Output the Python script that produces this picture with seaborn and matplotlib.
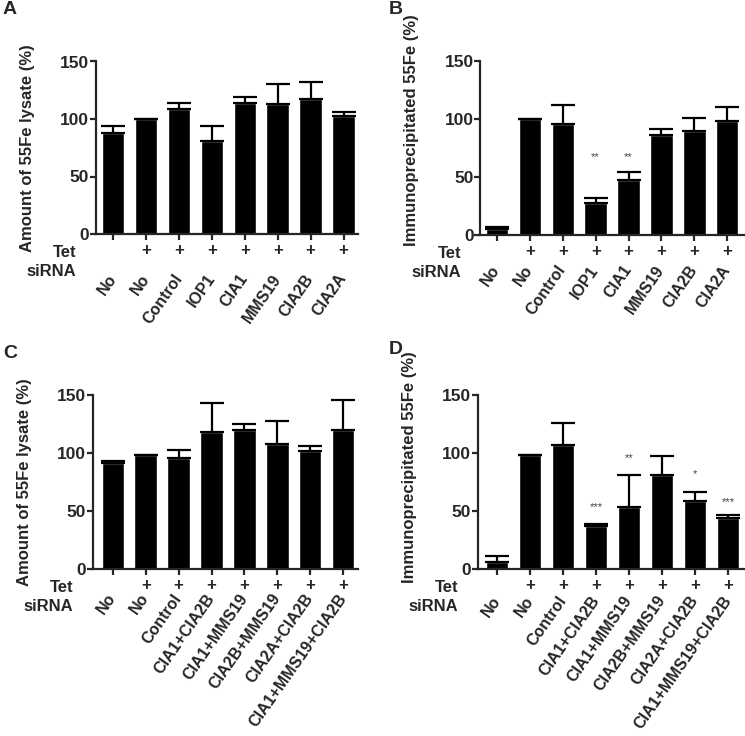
import numpy as np
import pandas as pd
import matplotlib
matplotlib.use("Agg")
import matplotlib.pyplot as plt
import seaborn as sns

# ---- data ----
sirna_ab = ["No", "No", "Control", "IOP1", "CIA1", "MMS19", "CIA2B", "CIA2A"]
sirna_cd = ["No", "No", "Control", "CIA1+CIA2B", "CIA1+MMS19", "CIA2B+MMS19",
            "CIA2A+CIA2B", "CIA1+MMS19+CIA2B"]
tet = ["", "+", "+", "+", "+", "+", "+", "+"]

lysate_a = [87.5, 100, 108.5, 80.5, 114, 113, 117, 103]
lysate_a_err = [6, 0, 5.5, 13.5, 5, 17, 15.5, 3]

ip_b = [5.5, 100, 95.5, 28, 47, 86.5, 90, 98.2]
ip_b_err = [1.3, 0, 16.5, 3.5, 7.5, 4.5, 11, 12.3]
stars_b = ["", "", "", "**", "**", "", "", ""]
stars_b_y = [0, 0, 0, 67, 67, 0, 0, 0]

lysate_c = [91.5, 98, 96, 118.5, 120, 108, 102, 120]
lysate_c_err = [2, 0, 7, 24.5, 5, 20, 4, 26]

ip_d = [6, 98, 107, 37.4, 53.6, 81, 58.5, 43.6]
ip_d_err = [4.8, 0, 19, 1.1, 27.1, 16.8, 7.5, 2.9]
stars_d = ["", "", "", "***", "**", "", "*", "***"]
stars_d_y = [0, 0, 0, 53.6, 96, 0, 82, 57.8]

ylab_lys = "Amount of 55Fe lysate (%)"
ylab_ip = "Immunoprecipitated 55Fe (%)"

sns.set_style("ticks")
plt.rcParams["font.family"] = ["Liberation Sans", "DejaVu Sans"]
plt.rcParams["font.weight"] = "bold"

W, H = 745, 736
fig = plt.figure(figsize=(W / 100, H / 100), dpi=100)


def panel(rect_px, labels, means, errs, ylabel, xlim, ylab_y, lab_pad, letter,
          letter_xy, stars=None, stars_y=None):
    x0, y_top, x1, y_bot = rect_px
    ax = fig.add_axes([x0 / W, 1 - y_bot / H, (x1 - x0) / W, (y_bot - y_top) / H])
    df = pd.DataFrame({"pos": range(len(means)), "val": means})
    sns.barplot(data=df, x="pos", y="val", color="black", saturation=1,
                width=0.68, errorbar=None, ax=ax)
    ax.errorbar(df["pos"], df["val"], yerr=[np.zeros(len(errs)), errs],
                fmt="none", ecolor="black", elinewidth=1.6, capsize=8.5,
                capthick=1.6, zorder=1)
    ax.set_ylim(0, 150)
    ax.set_yticks([0, 50, 100, 150])
    ax.set_xlim(*xlim)
    sns.despine(ax=ax)
    for s in ["left", "bottom"]:
        ax.spines[s].set_linewidth(1.6)
    ax.tick_params(axis="both", width=1.6, length=4)
    ax.tick_params(axis="y", labelsize=12.5, pad=1)
    ax.set_xticks(range(len(labels)))
    ax.set_xticklabels(labels, rotation=55, ha="right", va="center",
                       rotation_mode="anchor", fontsize=11.5, fontweight="bold")
    ax.tick_params(axis="x", pad=lab_pad)
    ax.set_xlabel("")
    ax.set_ylabel(ylabel, fontsize=12, fontweight="bold")
    ax.yaxis.set_label_coords(-61 / (x1 - x0), ylab_y)

    # Tet / siRNA rows
    ax.annotate("Tet", xy=(0, 0), xycoords="axes fraction", xytext=(-14, -13),
                textcoords="offset points", ha="right", va="center",
                fontsize=12, fontweight="bold")
    ax.annotate("siRNA", xy=(0, 0), xycoords="axes fraction", xytext=(-14, -27),
                textcoords="offset points", ha="right", va="center",
                fontsize=12, fontweight="bold")
    for i, t in enumerate(tet):
        ax.annotate(t, xy=(i, 0), xycoords=("data", "axes fraction"),
                    xytext=(0, -12), textcoords="offset points",
                    ha="center", va="center", fontsize=12, fontweight="bold")
    if stars is not None:
        for i, (s, y) in enumerate(zip(stars, stars_y)):
            if s:
                ax.text(i, y, s, ha="center", va="center", fontsize=8,
                        fontweight="normal", color="#444444")
    fig.text(letter_xy[0] / W, 1 - letter_xy[1] / H, letter, fontsize=14,
             fontweight="bold", ha="left", va="center")
    return ax


panel((96, 61.5, 358, 234), sirna_ab, lysate_a, lysate_a_err, ylab_lys,
      (-0.52, 7.44), 0.5, 26, "A", (3, 9))
panel((480.5, 61, 745, 235), sirna_ab, ip_b, ip_b_err, ylab_ip,
      (-0.5, 7.54), 0.6, 19, "B", (389, 9), stars_b, stars_b_y)
panel((93, 395, 358, 569), sirna_cd, lysate_c, lysate_c_err, ylab_lys,
      (-0.6, 7.45), 0.5, 15, "C", (3, 353))
panel((478, 395, 745, 569), sirna_cd, ip_d, ip_d_err, ylab_ip,
      (-0.58, 7.51), 0.583, 16.5, "D", (389, 349), stars_d, stars_d_y)

fig.savefig("out.png", dpi=100)
